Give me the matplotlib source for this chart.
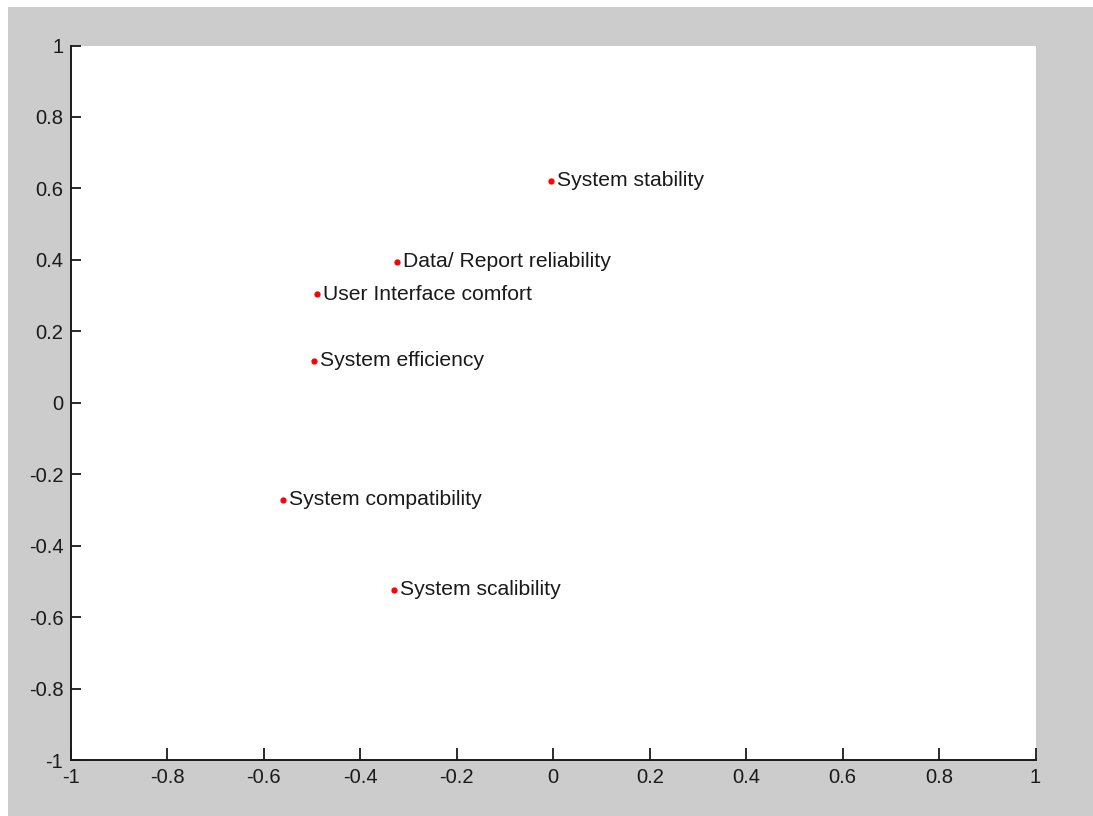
import matplotlib
matplotlib.use("Agg")
import matplotlib.pyplot as plt
from matplotlib.patches import Rectangle

# Attribute coordinates
labels = [
    "System stability",
    "Data/ Report reliability",
    "User Interface comfort",
    "System efficiency",
    "System compatibility",
    "System scalibility",
]
x_vals = [-0.005, -0.324, -0.490, -0.497, -0.560, -0.330]
y_vals = [0.622, 0.395, 0.304, 0.117, -0.272, -0.524]

ticks = [-1, -0.8, -0.6, -0.4, -0.2, 0, 0.2, 0.4, 0.6, 0.8, 1]
tick_labels = ["-1", "-0.8", "-0.6", "-0.4", "-0.2", "0", "0.2", "0.4", "0.6", "0.8", "1"]

plt.rcParams["font.family"] = ["Liberation Sans", "DejaVu Sans"]

W, H = 1093, 816
fig = plt.figure(figsize=(W / 100, H / 100), dpi=100, facecolor="white")
# grey window background
fig.patches.append(Rectangle((8 / W, 0), 1 - 8 / W, (H - 7) / H,
                             transform=fig.transFigure, facecolor="#cccccc",
                             edgecolor="none", zorder=-10))

ax = fig.add_axes([71 / W, 1 - 760 / H, (1035.5 - 71) / W, (760 - 45.5) / H])
ax.set_zorder(1)
ax.set_facecolor("white")

ax.plot(x_vals, y_vals, linestyle="none", marker=".", color="#ff0000", markersize=7)
for x, y, s in zip(x_vals, y_vals, labels):
    ax.annotate(s, (x, y), xytext=(4.5, 0), textcoords="offset points",
                ha="left", va="center", fontsize=15.2, color="#1a1a1a")

ax.set_xlim(-1, 1)
ax.set_ylim(-1, 1)
ax.set_xticks(ticks)
ax.set_xticklabels(tick_labels)
ax.set_yticks(ticks)
ax.set_yticklabels(tick_labels)
ax.tick_params(direction="in", width=1.3, labelsize=14.5, colors="#1a1a1a")
ax.tick_params(axis="x", length=8.6, pad=5.5)
ax.tick_params(axis="y", length=7.2, pad=5.5)
for side in ("top", "right"):
    ax.spines[side].set_visible(False)
for side in ("left", "bottom"):
    ax.spines[side].set_linewidth(1.4)
    ax.spines[side].set_color("#1a1a1a")

fig.savefig("out.png", dpi=100, facecolor=fig.get_facecolor())
